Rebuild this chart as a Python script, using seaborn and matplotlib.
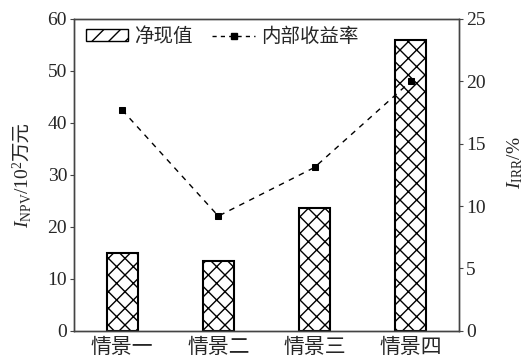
import matplotlib
matplotlib.use("Agg")
import matplotlib.pyplot as plt
from matplotlib.lines import Line2D
from matplotlib.patches import Patch
import seaborn as sns
import pandas as pd

categories = ["情景一", "情景二", "情景三", "情景四"]
npv_values = [15.0, 13.5, 23.6, 56.0]
irr_values = [17.7, 9.2, 13.1, 20.0]
left_ticks = [0, 10, 20, 30, 40, 50, 60]
right_ticks = [0, 5, 10, 15, 20, 25]

sns.set_theme(style="white")
plt.rcParams["font.family"] = ["Liberation Serif", "Noto Sans CJK SC"]
plt.rcParams["mathtext.fontset"] = "custom"
plt.rcParams["mathtext.rm"] = "Liberation Serif"
plt.rcParams["mathtext.it"] = "Liberation Serif:italic"
plt.rcParams["hatch.linewidth"] = 1.0

df = pd.DataFrame({"情景": categories, "净现值": npv_values, "内部收益率": irr_values})

fig = plt.figure(figsize=(5.25, 3.64), dpi=100)
ax = fig.add_axes([0.141, 0.091, 0.733, 0.857])

sns.barplot(data=df, x="情景", y="净现值", ax=ax, width=0.32,
            color="white", edgecolor="black", linewidth=1.5, hatch="xx")
ax.set_xlim(-0.5, 3.5)
ax.set_ylim(0, 60)
ax.set_yticks(left_ticks)
ax.set_xlabel("")
ax.set_ylabel(r"$I_{\mathrm{NPV}}$/10$^2$", fontsize=14, labelpad=10)

ax2 = ax.twinx()
sns.lineplot(data=df, x="情景", y="内部收益率", ax=ax2, color="black",
             linestyle=(0, (4, 4)), linewidth=1.0, marker="s", markersize=5,
             markeredgecolor="black")
ax2.set_ylim(0, 25)
ax2.set_yticks(right_ticks)
ax2.set_xlim(-0.5, 3.5)
ax2.set_ylabel(r"$I_{\mathrm{IRR}}$/%", fontsize=14, labelpad=14)
ax2.yaxis.label.set_y(0.54)

for a in (ax, ax2):
    for s in a.spines.values():
        s.set_color("#444444")
        s.set_linewidth(1.0)
    a.tick_params(axis="y", direction="out", length=3, width=0.8,
                  color="#444444", labelsize=14, pad=2)
ax.tick_params(axis="x", length=0, labelsize=15, pad=6)
ax2.tick_params(axis="y", left=False, right=True)
ax.tick_params(axis="y", left=True)

handles = [
    Patch(facecolor="white", edgecolor="black", hatch="//", linewidth=1.0),
    Line2D([0], [0], color="black", linestyle=(0, (3, 3)), linewidth=1.0,
           marker="s", markersize=5),
]
ax.legend(handles, ["净现值", "内部收益率"], loc="upper left", ncol=2,
          frameon=False, fontsize=14, handlelength=2.2, handleheight=0.6,
          columnspacing=1.0, handletextpad=0.3, borderaxespad=0.2,
          bbox_to_anchor=(0.0, 1.01))

# unit characters continue the rotated left-axis label; centre the pair on the axis
fig.canvas.draw()
renderer = fig.canvas.get_renderer()
unit = fig.text(0, 0, "万元", rotation=90, ha="center", va="bottom", fontsize=14)
unit_len = unit.get_window_extent(renderer).height
lab_len = ax.yaxis.label.get_window_extent(renderer).height
ax_bb = ax.get_window_extent(renderer)
total = lab_len + unit_len
label_center_px = (ax_bb.y0 + ax_bb.y1) / 2 - total / 2 + lab_len / 2
ax.yaxis.label.set_y((label_center_px - ax_bb.y0) / ax_bb.height)
fig.canvas.draw()
bb = ax.yaxis.label.get_window_extent(renderer)
x0, y0 = fig.transFigure.inverted().transform(((bb.x0 + bb.x1) / 2 + 1, bb.y1))
unit.set_position((x0, y0))

fig.savefig("out.png", dpi=100)
